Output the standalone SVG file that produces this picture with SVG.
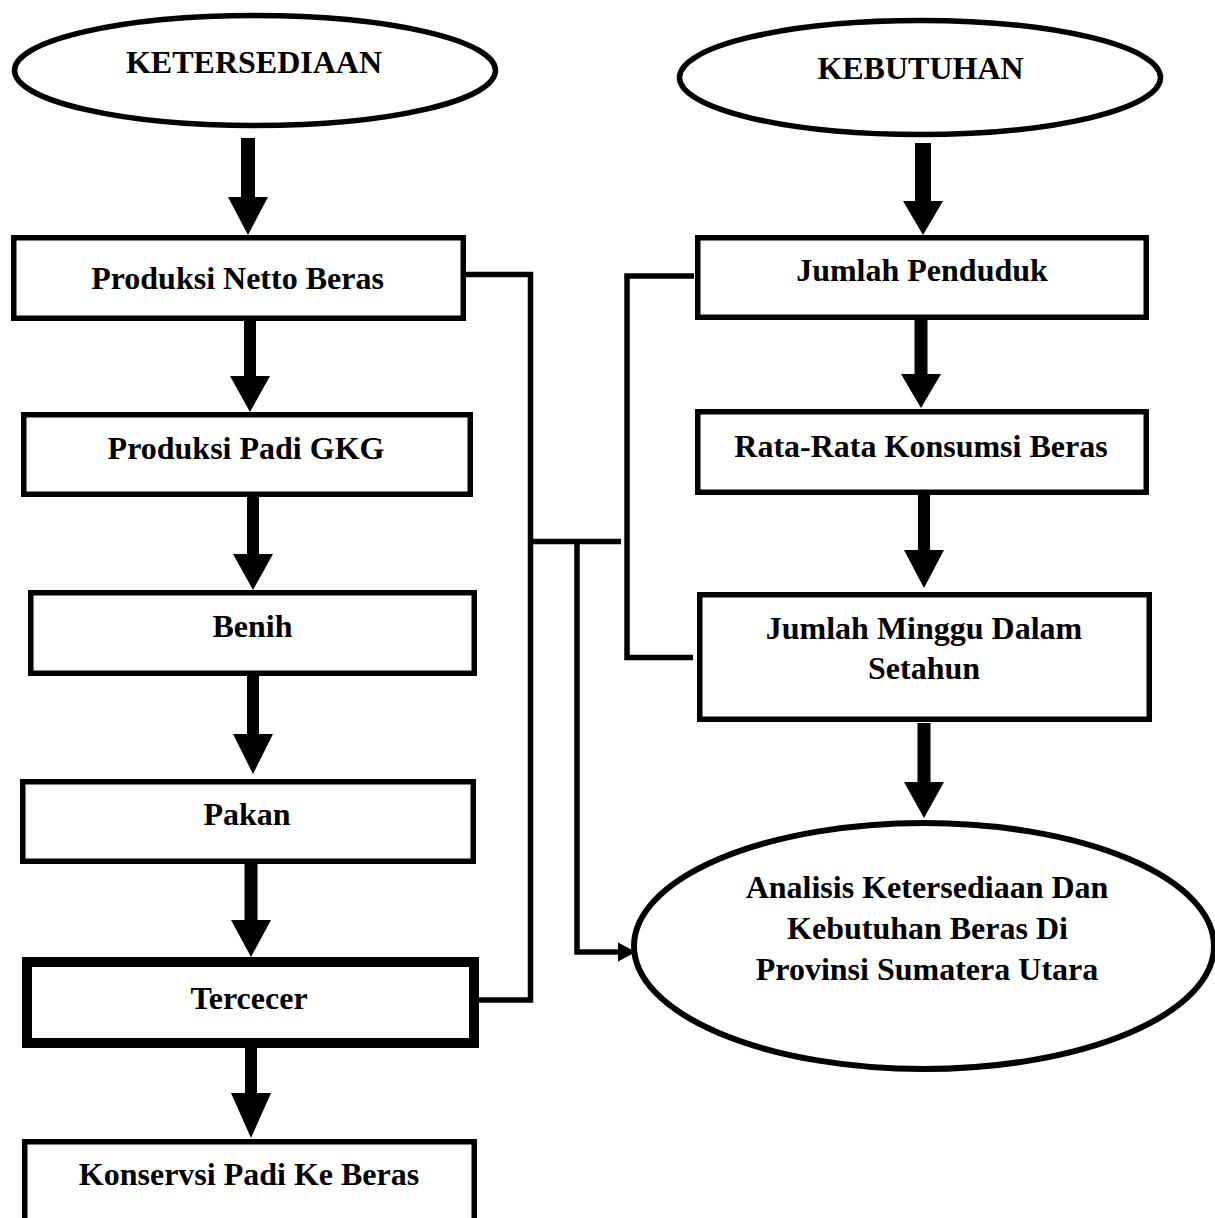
<svg xmlns="http://www.w3.org/2000/svg" width="1215" height="1218" viewBox="0 0 1215 1218">
<style>
.box{fill:#fff;stroke:#000;stroke-width:5.5}
.thick{stroke-width:10}
.ell{fill:#fff;stroke:#000;stroke-width:5.5}
.t{font-family:"Liberation Serif","Times New Roman",serif;font-weight:bold;font-size:32px;fill:#000;text-anchor:middle}
.ln{fill:none;stroke:#000;stroke-width:5.5;stroke-linejoin:miter}
.arr{fill:#000;stroke:none}
</style>
<rect width="1215" height="1218" fill="#fff"/>
<g id="connectors">
<polygon class="arr" points="241,138 255,138 255,197 268,197 248,235 228,197 241,197"/>
<polygon class="arr" points="244,320 256,320 256,376 270,376 250,412 230,376 244,376"/>
<polygon class="arr" points="247,497 259,497 259,554 273,554 253,590 233,554 247,554"/>
<polygon class="arr" points="247,676 259,676 259,734 273,734 253,774 233,734 247,734"/>
<polygon class="arr" points="244.5,864 257.5,864 257.5,920 271,920 251,957 231,920 244.5,920"/>
<polygon class="arr" points="245,1035 257,1035 257,1093 271,1093 251,1138 231,1093 245,1093"/>
<polygon class="arr" points="915,143 931,143 931,201 943,201 923,235 903,201 915,201"/>
<polygon class="arr" points="914.5,320 927.5,320 927.5,374 941,374 921,408 901,374 914.5,374"/>
<polygon class="arr" points="918,494 930,494 930,550 944,550 924,588 904,550 918,550"/>
<polygon class="arr" points="917.5,723 930.5,723 930.5,782 944,782 924,818 904,782 917.5,782"/>
<polyline class="ln" points="466,274.5 530.5,274.5 530.5,1000 479,1000"/>
<line class="ln" x1="530.5" y1="541.5" x2="621" y2="541.5"/>
<polyline class="ln" points="577,541.5 577,952 619,952"/>
<polygon class="arr" points="618,942.5 636,952 618,961.5"/>
<polyline class="ln" points="694,276 627,276 627,657.5 693,657.5"/>
</g>
<g id="n-ketersediaan">
<ellipse class="ell" cx="255" cy="70.5" rx="240.5" ry="55"/>
<text class="t" x="254" y="72.5">KETERSEDIAAN</text>
</g>
<g id="n-kebutuhan">
<ellipse class="ell" cx="920" cy="77.5" rx="240.5" ry="57"/>
<text class="t" x="920.5" y="79">KEBUTUHAN</text>
</g>
<g id="n-netto">
<rect class="box" x="13.75" y="237.75" width="449.5" height="80.5"/>
<text class="t" x="237.5" y="289">Produksi Netto Beras</text>
</g>
<g id="n-gkg">
<rect class="box" x="23.75" y="414.75" width="446.5" height="79.5"/>
<text class="t" x="246" y="459">Produksi Padi GKG</text>
</g>
<g id="n-benih">
<rect class="box" x="30.75" y="592.75" width="443.5" height="80.5"/>
<text class="t" x="252.5" y="637">Benih</text>
</g>
<g id="n-pakan">
<rect class="box" x="22.75" y="781.75" width="450.5" height="79.5"/>
<text class="t" x="247" y="825">Pakan</text>
</g>
<g id="n-tercecer">
<rect class="box thick" x="27" y="962" width="447" height="81"/>
<text class="t" x="249" y="1008.5">Tercecer</text>
</g>
<g id="n-konservsi">
<rect class="box" x="24.75" y="1141.75" width="449.5" height="100"/>
<text class="t" x="249" y="1185">Konservsi Padi Ke Beras</text>
</g>
<g id="n-penduduk">
<rect class="box" x="697.75" y="237.75" width="448.5" height="79.5"/>
<text class="t" x="922" y="281">Jumlah Penduduk</text>
</g>
<g id="n-rata">
<rect class="box" x="697.75" y="411.75" width="448.5" height="80.5"/>
<text class="t" x="921" y="457">Rata-Rata Konsumsi Beras</text>
</g>
<g id="n-minggu">
<rect class="box" x="699.75" y="594.75" width="449.5" height="124.5"/>
<text class="t" x="924" y="639">Jumlah Minggu Dalam</text>
<text class="t" x="924" y="679">Setahun</text>
</g>
<g id="n-analisis">
<ellipse class="ell" cx="924" cy="946" rx="290" ry="123" style="stroke-width:6"/>
<text class="t" x="927" y="898">Analisis Ketersediaan Dan</text>
<text class="t" x="927.5" y="939">Kebutuhan Beras Di</text>
<text class="t" x="927" y="980">Provinsi Sumatera Utara</text>
</g>
</svg>
